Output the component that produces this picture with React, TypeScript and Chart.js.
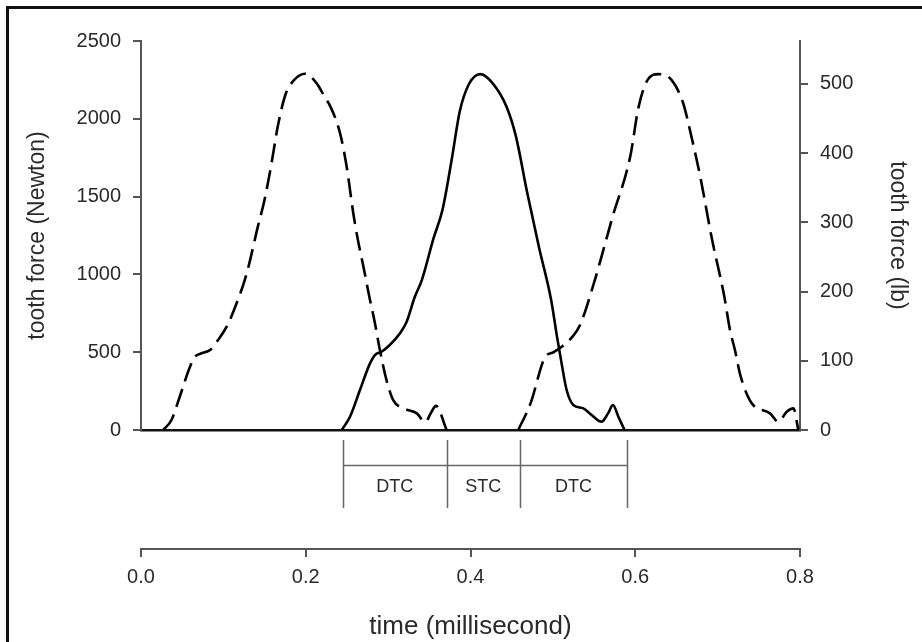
import React, { useEffect, useRef } from "react";
import { Chart, registerables } from "chart.js";

Chart.register(...registerables);

// ---- data (time in millisecond, force in Newton) ----
const TIME_A = [0.027, 0.037, 0.047, 0.0595, 0.0656, 0.0737, 0.0838, 0.0935, 0.104, 0.115, 0.128, 0.142, 0.15, 0.158, 0.166, 0.175, 0.186, 0.199, 0.2133, 0.223, 0.23, 0.2416, 0.2497, 0.2577, 0.263, 0.27, 0.277, 0.284, 0.29, 0.298, 0.306, 0.3187, 0.3348, 0.345, 0.352, 0.358, 0.371];
const FORCE_A = [0, 64, 214, 407, 471, 493, 514, 578, 664, 800, 1000, 1310, 1480, 1700, 1950, 2150, 2250, 2290, 2228, 2140, 2078, 1908, 1692, 1393, 1230, 1050, 861, 686, 514, 321, 193, 139, 107, 50, 110, 155, 0];

const TIME_B = [0.2436, 0.2537, 0.2658, 0.278, 0.284, 0.292, 0.302, 0.3144, 0.3225, 0.332, 0.341, 0.355, 0.366, 0.377, 0.387, 0.398, 0.412, 0.426, 0.444, 0.455, 0.469, 0.483, 0.498, 0.505, 0.5106, 0.5167, 0.5248, 0.537, 0.547, 0.559, 0.567, 0.573, 0.5795, 0.587];
const FORCE_B = [0, 85, 257, 428, 482, 503, 546, 622, 696, 850, 965, 1230, 1415, 1732, 2048, 2222, 2287, 2234, 2075, 1890, 1521, 1178, 833, 600, 428, 257, 161, 139, 96, 53, 107, 161, 85, 0];

const TIME_C = [0.458, 0.473, 0.49, 0.501, 0.512, 0.523, 0.533, 0.551, 0.572, 0.594, 0.604, 0.615, 0.628, 0.644, 0.658, 0.668, 0.679, 0.693, 0.708, 0.715, 0.721, 0.727, 0.735, 0.743, 0.7636, 0.7738, 0.7839, 0.792, 0.798];
const FORCE_C = [0, 173, 463, 501, 540, 595, 675, 965, 1362, 1760, 2075, 2250, 2287, 2250, 2103, 1890, 1626, 1230, 861, 643, 514, 364, 236, 161, 107, 53, 118, 139, 0];

// contact regions (time boundaries) and labels
const CONTACT_BOUNDS = [0.245, 0.371, 0.46, 0.59];
const CONTACT_LABELS = ["DTC", "STC", "DTC"];

const N_TICKS = [0, 500, 1000, 1500, 2000, 2500];
const LB_TICKS = [0, 100, 200, 300, 400, 500];
const TIME_TICKS = [0, 0.2, 0.4, 0.6, 0.8];

const N_PER_LB = 4.448;
const FONT = "'Liberation Sans', Arial, sans-serif";
const AXIS = "#555";
const TEXT = "#2a2a2a";

const toPts = (t: number[], f: number[]) => t.map((x, i) => ({ x, y: f[i] }));

const contactPlugin = {
  id: "contact",
  afterDraw(chart: any) {
    const { ctx, chartArea } = chart;
    const xs = chart.scales.x;
    const base = chartArea.bottom;
    const px = CONTACT_BOUNDS.map((b) => xs.getPixelForValue(b));
    ctx.save();
    ctx.strokeStyle = "#666";
    ctx.lineWidth = 1.5;
    ctx.beginPath();
    px.forEach((p) => {
      ctx.moveTo(Math.round(p) + 0.5, base + 10);
      ctx.lineTo(Math.round(p) + 0.5, base + 78);
    });
    ctx.moveTo(px[0], base + 35.5);
    ctx.lineTo(px[px.length - 1], base + 35.5);
    ctx.stroke();
    ctx.fillStyle = TEXT;
    ctx.font = `18px ${FONT}`;
    ctx.textAlign = "center";
    ctx.textBaseline = "middle";
    CONTACT_LABELS.forEach((l, i) => {
      ctx.fillText(l, (px[i] + px[i + 1]) / 2, base + 57);
    });
    ctx.restore();
  },
};

export default function App() {
  const ref = useRef<HTMLCanvasElement>(null);
  useEffect(() => {
    if (!ref.current) return;
    const tickFont = { size: 20, family: FONT };
    const chart = new Chart(ref.current, {
      type: "line",
      data: {
        datasets: [
          { data: toPts(TIME_A, FORCE_A), borderColor: "#000", borderWidth: 2.6, borderDash: [19, 8], pointRadius: 0, cubicInterpolationMode: "monotone", fill: false },
          { data: toPts(TIME_B, FORCE_B), borderColor: "#000", borderWidth: 2.6, pointRadius: 0, cubicInterpolationMode: "monotone", fill: false },
          { data: toPts(TIME_C, FORCE_C), borderColor: "#000", borderWidth: 2.6, borderDash: [19, 8], pointRadius: 0, cubicInterpolationMode: "monotone", fill: false },
        ],
      },
      options: {
        responsive: false,
        animation: false,
        devicePixelRatio: 1,
        layout: { padding: { top: 41, left: 0, right: 0, bottom: 0 } },
        plugins: { legend: { display: false }, tooltip: { enabled: false } },
        scales: {
          x: {
            type: "linear",
            position: "bottom",
            min: 0,
            max: 0.8,
            ticks: { display: false },
            grid: { display: false },
            border: { display: true, color: "#111", width: 2.6 },
            afterFit: (s: any) => { s.height = 119; },
          },
          x2: {
            type: "linear",
            position: "bottom",
            min: 0,
            max: 0.8,
            afterBuildTicks: (s: any) => { s.ticks = TIME_TICKS.map((v) => ({ value: v })); },
            ticks: { callback: (v: any) => Number(v).toFixed(1), font: tickFont, color: TEXT, padding: 8, maxRotation: 0 },
            grid: { drawOnChartArea: false, drawTicks: true, tickLength: 8, color: AXIS, lineWidth: 2 },
            border: { display: true, color: AXIS, width: 2 },
            title: { display: true, text: "time (millisecond)", font: { size: 26, family: FONT }, color: TEXT, padding: { top: 0, bottom: 0 } },
            afterFit: (s: any) => { s.height = 93; },
          },
          y: {
            type: "linear",
            position: "left",
            min: 0,
            max: 2500,
            afterBuildTicks: (s: any) => { s.ticks = N_TICKS.map((v) => ({ value: v })); },
            ticks: { callback: (v: any) => String(v), font: tickFont, color: TEXT, padding: 12 },
            grid: { drawOnChartArea: false, drawTicks: true, tickLength: 8, color: AXIS, lineWidth: 2 },
            border: { display: true, color: AXIS, width: 2 },
            title: { display: true, text: "tooth force (Newton)", font: { size: 23, family: FONT }, color: TEXT, padding: { top: 24, bottom: 0 } },
            afterFit: (s: any) => { s.width = 141; },
          },
          y2: {
            type: "linear",
            position: "right",
            min: 0,
            max: 2500 / N_PER_LB,
            afterBuildTicks: (s: any) => { s.ticks = LB_TICKS.map((v) => ({ value: v })); },
            ticks: { callback: (v: any) => String(v), font: tickFont, color: TEXT, padding: 12 },
            grid: { drawOnChartArea: false, drawTicks: true, tickLength: 8, color: AXIS, lineWidth: 2 },
            border: { display: true, color: AXIS, width: 2 },
            title: { display: true, text: "tooth force (lb)", font: { size: 23, family: FONT }, color: TEXT, padding: { top: 11, bottom: 0 } },
            afterFit: (s: any) => { s.width = 122; },
          },
        },
      } as any,
      plugins: [contactPlugin],
    });
    return () => chart.destroy();
  }, []);

  return (
    <div style={{ position: "absolute", left: 0, top: 0, width: 922, height: 642, background: "#fff" }}>
      <canvas ref={ref} width={922} height={642} style={{ width: 922, height: 642, display: "block" }} />
      <div style={{ position: "absolute", left: 6, top: 6, right: 0, bottom: 0, borderLeft: "3px solid #111", borderTop: "3px solid #111", pointerEvents: "none" }} />
    </div>
  );
}
